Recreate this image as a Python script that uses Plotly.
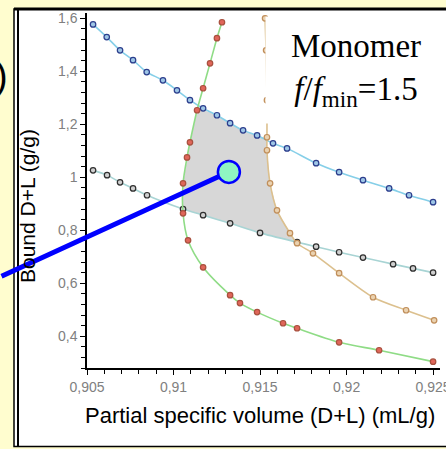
import plotly.graph_objects as go

# ---------------- data ----------------
blue_x = [0.90535, 0.90614, 0.90691, 0.90766, 0.90845, 0.90939, 0.91020, 0.91095, 0.91171,
          0.91251, 0.91327, 0.91402, 0.91483, 0.91575, 0.91656, 0.91824, 0.91957, 0.92095,
          0.92246, 0.92361, 0.92500]
blue_y = [1.577, 1.529, 1.479, 1.442, 1.397, 1.366, 1.328, 1.291, 1.260,
          1.234, 1.204, 1.177, 1.158, 1.128, 1.109, 1.053, 1.019, 0.989,
          0.958, 0.932, 0.906]

black_x = [0.90535, 0.90616, 0.90691, 0.90766, 0.90847, 0.91055, 0.91171, 0.91327, 0.91500,
           0.91714, 0.91824, 0.91957, 0.92095, 0.92269, 0.92384, 0.92500]
black_y = [1.026, 1.008, 0.981, 0.958, 0.932, 0.880, 0.857, 0.826, 0.790,
           0.755, 0.738, 0.717, 0.697, 0.672, 0.656, 0.640]

red_x = [0.91280, 0.91251, 0.91211, 0.91171, 0.91136, 0.91095, 0.91078, 0.91055, 0.91055,
         0.91084, 0.91171, 0.91327, 0.91384, 0.91483, 0.91633, 0.91714, 0.91957, 0.92188, 0.92500]
red_y = [1.585, 1.525, 1.430, 1.336, 1.253, 1.132, 1.075, 0.977, 0.864,
         0.762, 0.660, 0.555, 0.525, 0.491, 0.449, 0.430, 0.377, 0.347, 0.304]

orange_x = [0.91529, 0.91535, 0.91540, 0.91540, 0.91540, 0.91558, 0.91598, 0.91673, 0.91714,
            0.91806, 0.91957, 0.92153, 0.92344, 0.92506]
orange_y = [1.600, 1.479, 1.291, 1.151, 1.102, 0.977, 0.875, 0.789, 0.751,
            0.713, 0.638, 0.547, 0.498, 0.460]

region_x = [0.9114, 0.91251, 0.91327, 0.91402, 0.91483, 0.91540, 0.91540, 0.91558, 0.91598,
            0.91673, 0.91714, 0.91500, 0.91327, 0.91171, 0.91055, 0.91055, 0.91078, 0.91095, 0.9114]
region_y = [1.262, 1.234, 1.204, 1.177, 1.158, 1.147, 1.102, 0.977, 0.875,
            0.789, 0.755, 0.790, 0.826, 0.857, 0.880, 0.977, 1.075, 1.132, 1.262]

point_x = [0.9132]
point_y = [1.020]

x_title = "Partial specific volume (D+L) (mL/g)"
y_title = "Bound D+L (g/g)"
label_text = "Monomer<br><i>f</i>/<i>f</i><sub>min</sub>=1.5"

# ---------------- layout geometry ----------------
W, H = 446, 449
ML, MR, MT, MB = 87, 6, 13, 81
PW = W - ML - MR
PH = H - MT - MB


def pxp(x):
    return (x - ML) / PW


def pyp(y):
    return (H - MB - y) / PH


SANS = "Liberation Sans, Arial, sans-serif"
SERIF = "Liberation Serif, Times New Roman, serif"

fig = go.Figure()

fig.add_trace(go.Scatter(x=region_x, y=region_y, mode="lines", fill="toself",
                         fillcolor="#d7d7d7", line=dict(width=0), hoverinfo="skip"))


def curve(x, y, lc, fc, ec):
    fig.add_trace(go.Scatter(
        x=x, y=y, mode="lines+markers",
        line=dict(color=lc, width=1.6, shape="spline", smoothing=0.8),
        marker=dict(size=5.5, color=fc, line=dict(color=ec, width=1.2)),
        hoverinfo="skip"))


curve(black_x, black_y, "#a8d4d4", "#d0d0d0", "#2e2e2e")
curve(blue_x, blue_y, "#86cfe8", "#9ec6e6", "#2b3d8c")
curve(orange_x, orange_y, "#dcc08e", "#ead2b0", "#c08e5a")
curve(red_x, red_y, "#8fdc86", "#e0665a", "#a8503e")

fig.add_trace(go.Scatter(x=point_x, y=point_y, mode="markers", cliponaxis=False,
                         marker=dict(size=22, color="#8ff5c2",
                                     line=dict(color="#0000ff", width=2.5)),
                         hoverinfo="skip"))

axis_common = dict(showline=True, linecolor="black", linewidth=1.5, showgrid=False,
                   zeroline=False, ticks="outside", ticklen=5, tickwidth=1,
                   tickcolor="black", ticklabeloverflow="allow", automargin=False,
                   tickfont=dict(family=SANS, size=14, color="#808080"))

fig.update_xaxes(range=[0.905, 0.92540], tick0=0.905, dtick=0.005,
                 minor=dict(dtick=0.001, tick0=0.905, ticks="outside", ticklen=4,
                            tickcolor="black", tickwidth=1),
                 **axis_common)
fig.update_yaxes(range=[0.28, 1.62], tick0=0.4, dtick=0.2,
                 minor=dict(dtick=0.04, tick0=0.4, ticks="outside", ticklen=4,
                            tickcolor="black", tickwidth=1),
                 **axis_common)

shapes = [
    dict(type="rect", xref="paper", yref="paper", layer="below",
         x0=pxp(14), x1=pxp(452), y0=pyp(446.5), y1=pyp(9),
         fillcolor="white", line=dict(color="black", width=1.5)),
    dict(type="line", xref="paper", yref="paper", layer="below",
         x0=pxp(14), x1=pxp(452), y0=pyp(9), y1=pyp(9),
         line=dict(color="black", width=3)),
    dict(type="line", xref="paper", yref="paper", layer="below",
         x0=pxp(18), x1=pxp(18), y0=pyp(446.5), y1=pyp(9),
         line=dict(color="black", width=2)),
]

annotations = [
    dict(x=point_x[0], y=point_y[0], xref="x", yref="y", text="", showarrow=True,
         ax=-229, ay=105, arrowhead=0, arrowwidth=5, arrowcolor="#0000ff", standoff=11),
    dict(x=pxp(356), y=pyp(70), xref="paper", yref="paper", text=label_text,
         showarrow=False, xanchor="center", yanchor="middle", align="center",
         font=dict(family=SERIF, size=33, color="black"),
         bgcolor="white", width=178, height=104),
    dict(x=pxp(260), y=pyp(415), xref="paper", yref="paper", text=x_title,
         showarrow=False, xanchor="center", yanchor="middle",
         font=dict(family=SANS, size=22, color="black")),
    dict(x=pxp(28), y=pyp(206), xref="paper", yref="paper", text=y_title,
         showarrow=False, xanchor="center", yanchor="middle", textangle=-90,
         font=dict(family=SANS, size=21, color="black")),
    dict(x=pxp(1), y=pyp(76), xref="paper", yref="paper", text=")",
         showarrow=False, xanchor="center", yanchor="middle",
         font=dict(family=SANS, size=38, color="black")),
]

fig.update_layout(
    width=W, height=H,
    margin=dict(l=ML, r=MR, t=MT, b=MB, pad=0, autoexpand=False),
    paper_bgcolor="#FFFDCF", plot_bgcolor="white",
    showlegend=False, separators=", ",
    shapes=shapes, annotations=annotations,
)

fig.write_html("out.html")
